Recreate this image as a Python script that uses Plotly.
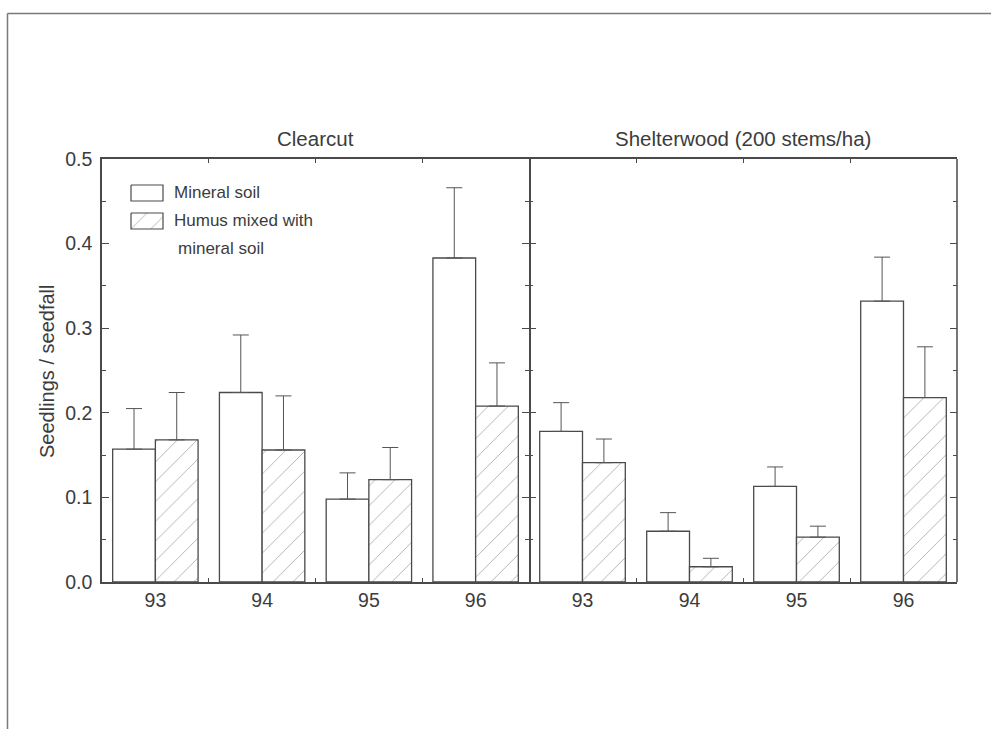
import plotly.graph_objects as go

# Seedling establishment per unit seedfall, by year and scarification substrate
years = ["93", "94", "95", "96"]
panels = ["Clearcut", "Shelterwood (200 stems/ha)"]
series_names = ["Mineral soil", "Humus mixed with mineral soil"]

clearcut_mineral = [0.157, 0.224, 0.098, 0.383]
clearcut_mineral_se = [0.048, 0.068, 0.031, 0.083]
clearcut_humus = [0.168, 0.156, 0.121, 0.208]
clearcut_humus_se = [0.056, 0.064, 0.038, 0.051]

shelter_mineral = [0.178, 0.060, 0.113, 0.332]
shelter_mineral_se = [0.034, 0.022, 0.023, 0.052]
shelter_humus = [0.141, 0.018, 0.053, 0.218]
shelter_humus_se = [0.028, 0.010, 0.013, 0.060]

y_ticks = [0.0, 0.1, 0.2, 0.3, 0.4, 0.5]

# ---- page geometry (pixels) ----
W, H = 991, 729
L, R, T, B = 102, 957, 159, 582          # plot area edges
SPLIT = 529                               # panel divider
split_frac = (SPLIT - L) / (R - L)

FONT = "Liberation Sans, Arial, sans-serif"
INK = "#3c3c3c"
LINE = "#4a4a4a"
HATCH = dict(shape="/", size=14, solidity=0.07, fgcolor="#6a6a6a", bgcolor="white")


def px_x(x):
    return (x - L) / (R - L)


def px_y(y):
    return (B - y) / (B - T)


x_pos = list(range(len(years)))

fig = go.Figure()

panel_data = [
    ("x", "y", clearcut_mineral, clearcut_mineral_se, clearcut_humus, clearcut_humus_se),
    ("x2", "y2", shelter_mineral, shelter_mineral_se, shelter_humus, shelter_humus_se),
]

for xa, ya, mvals, mse, hvals, hse in panel_data:
    fig.add_trace(go.Bar(
        x=x_pos, y=mvals, xaxis=xa, yaxis=ya, name=series_names[0],
        offsetgroup="m", showlegend=False,
        marker=dict(color="white", line=dict(color=LINE, width=1.3)),
        error_y=dict(type="data", symmetric=False, array=mse,
                     arrayminus=[0] * len(mse), color="#555555",
                     thickness=1, width=8),
    ))
    fig.add_trace(go.Bar(
        x=x_pos, y=hvals, xaxis=xa, yaxis=ya, name=series_names[1],
        offsetgroup="h", showlegend=False,
        marker=dict(color="white", line=dict(color=LINE, width=1.3), pattern=HATCH),
        error_y=dict(type="data", symmetric=False, array=hse,
                     arrayminus=[0] * len(hse), color="#555555",
                     thickness=1, width=8),
    ))

# ---- legend swatches on an overlay axis measured in page pixels ----
sw_x0, sw_x1 = 131, 163
sw_rows = [(185, 201), (213, 229)]
for i, (y0, y1) in enumerate(sw_rows):
    fig.add_trace(go.Scatter(
        x=[sw_x0, sw_x1, sw_x1, sw_x0, sw_x0],
        y=[y0, y0, y1, y1, y0],
        xaxis="x3", yaxis="y3", mode="lines", fill="toself",
        fillcolor="white", line=dict(color=LINE, width=1.2),
        fillpattern=HATCH if i == 1 else None,
        hoverinfo="skip", showlegend=False,
    ))

axis_common = dict(
    showline=True, linecolor=LINE, linewidth=1.5, mirror="ticks",
    showgrid=False, zeroline=False,
)

x_common = dict(
    axis_common,
    range=[-0.5, len(years) - 0.5],
    tickmode="array", tickvals=x_pos, ticktext=years,
    ticks="", ticklen=0,
    tickfont=dict(family=FONT, size=19.5, color=INK),
    minor=dict(tickmode="array", tickvals=[0.5, 1.5, 2.5], ticks="inside",
               ticklen=4, tickwidth=1.3, tickcolor=LINE, showgrid=False),
)

y_common = dict(
    axis_common,
    range=[0, 0.5],
    tickmode="array", tickvals=y_ticks,
    ticks="inside", ticklen=7, tickwidth=1.3, tickcolor=LINE,
    minor=dict(dtick=0.05, tick0=0, ticks="inside", ticklen=4,
               tickwidth=1.3, tickcolor=LINE, showgrid=False),
    tickfont=dict(family=FONT, size=19.5, color=INK),
    tickformat=".1f",
)

fig.update_layout(
    width=W, height=H,
    margin=dict(l=L, r=W - R, t=T, b=H - B, pad=0),
    paper_bgcolor="white", plot_bgcolor="rgba(0,0,0,0)",
    barmode="group", bargap=0.2, bargroupgap=0,
    font=dict(family=FONT, color=INK),
    xaxis=dict(x_common, domain=[0, split_frac], anchor="y"),
    xaxis2=dict(x_common, domain=[split_frac, 1], anchor="y2"),
    yaxis=dict(y_common, domain=[0, 1], anchor="x", ticklabelstandoff=4),
    # the divider line comes from the left panel's mirrored axis line
    yaxis2=dict(y_common, domain=[0, 1], anchor="x2", showticklabels=False,
                showline=False),
    xaxis3=dict(domain=[0, 1], anchor="y3", range=[L, R], visible=False, fixedrange=True),
    yaxis3=dict(domain=[0, 1], anchor="x3", range=[B, T], visible=False, fixedrange=True),
)

annotations = [
    dict(text=panels[0], x=split_frac / 2, y=px_y(139), xref="paper", yref="paper",
         showarrow=False, font=dict(family=FONT, size=20.5, color=INK),
         xanchor="center", yanchor="middle"),
    dict(text=panels[1], x=(split_frac + 1) / 2, y=px_y(139), xref="paper", yref="paper",
         showarrow=False, font=dict(family=FONT, size=20.5, color=INK),
         xanchor="center", yanchor="middle"),
    dict(text="Seedlings / seedfall", x=px_x(47), y=px_y(372), xref="paper", yref="paper",
         showarrow=False, textangle=-90, font=dict(family=FONT, size=20, color=INK),
         xanchor="center", yanchor="middle"),
    dict(text="Mineral soil", x=px_x(172), y=px_y(192), xref="paper", yref="paper",
         showarrow=False, font=dict(family=FONT, size=17, color=INK),
         xanchor="left", yanchor="middle"),
    dict(text="Humus mixed with", x=px_x(172), y=px_y(220), xref="paper", yref="paper",
         showarrow=False, font=dict(family=FONT, size=17, color=INK),
         xanchor="left", yanchor="middle"),
    dict(text="mineral soil", x=px_x(176), y=px_y(248), xref="paper", yref="paper",
         showarrow=False, font=dict(family=FONT, size=17, color=INK),
         xanchor="left", yanchor="middle"),
]
fig.update_layout(annotations=annotations)

# right edge of the shelterwood panel
fig.add_shape(type="line", xref="paper", yref="paper",
              x0=1, x1=1, y0=0, y1=1, line=dict(color=LINE, width=1.5))

# page frame (left and top edges)
frame = dict(color="#7a7a7a", width=1.5)
fig.add_shape(type="line", xref="paper", yref="paper",
              x0=px_x(7.5), x1=px_x(7.5), y0=px_y(13.5), y1=px_y(H + 2), line=frame)
fig.add_shape(type="line", xref="paper", yref="paper",
              x0=px_x(7.5), x1=px_x(W + 2), y0=px_y(13.5), y1=px_y(13.5), line=frame)

fig.write_html("out.html")
